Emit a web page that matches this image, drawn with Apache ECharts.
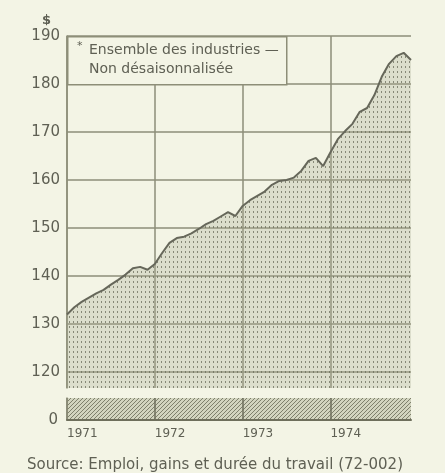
<!DOCTYPE html>
<html>
<head>
<meta charset="utf-8">
<script src="https://cdn.jsdelivr.net/npm/echarts@6/dist/echarts.min.js"></script>
<style>
html, body { margin: 0; padding: 0; background: #f3f4e5; }
#chart { width: 445px; height: 473px; }
</style>
</head>
<body>
<div id="chart"></div>
<script>
// gains hebdomadaires moyens, ensemble des industries (non désaisonnalisé)
var years = ['1971', '1972', '1973', '1974'];
var gains = [
    132.0, 133.5, 134.6, 135.5, 136.4, 137.1, 138.2, 139.2, 140.3, 141.6, 141.9, 141.3,
    142.5, 144.8, 146.9, 147.9, 148.2, 148.9, 149.8, 150.8, 151.5, 152.4, 153.3, 152.5,
    154.6, 155.8, 156.7, 157.6, 159.0, 159.8, 160.0, 160.5, 161.9, 164.0, 164.6, 162.9,
    165.8, 168.5, 170.2, 171.7, 174.2, 175.0, 177.7, 181.5, 184.2, 185.8, 186.5, 185.0
];
var yTicks = [120, 130, 140, 150, 160, 170, 180, 190];
var legendLines = ['Ensemble des industries \u2014', 'Non d\u00e9saisonnalis\u00e9e'];
var sourceText = 'Source: Emploi, gains et dur\u00e9e du travail (72-002)';

// une catégorie par mois
var months = [];
years.forEach(function (y) {
    for (var m = 1; m <= 12; m++) months.push(y + '-' + m);
});

var ink = '#5f6054';
var gridCol = '#8d8e78';
var font = 'DejaVu Sans';

// trame pointillée (remplissage de la courbe)
function dotPattern() {
    var c = document.createElement('canvas');
    c.width = 4; c.height = 5;
    var ctx = c.getContext('2d');
    ctx.fillStyle = 'rgba(170,172,145,0.30)';
    ctx.fillRect(0, 0, 4, 5);
    ctx.fillStyle = 'rgba(105,107,88,0.75)';
    ctx.fillRect(1, 1, 1, 2);
    return c;
}
// trame serrée de la bande du bas (axe coupé)
function hatchPattern() {
    var c = document.createElement('canvas');
    c.width = 4; c.height = 4;
    var ctx = c.getContext('2d');
    ctx.fillStyle = 'rgba(170,172,145,0.45)';
    ctx.fillRect(0, 0, 4, 4);
    ctx.fillStyle = 'rgba(105,107,88,0.8)';
    ctx.fillRect(0, 0, 1, 1); ctx.fillRect(2, 2, 1, 1);
    ctx.fillRect(3, 1, 1, 1); ctx.fillRect(1, 3, 1, 1);
    return c;
}

var yearTick = function (idx) { return idx % 12 === 0; };

var myChart = echarts.init(document.getElementById('chart'));
var option = {
    backgroundColor: '#f3f4e5',
    animation: false,
    grid: [
        { left: 67, top: 36, width: 344, height: 352, outerBoundsMode: 'none' },
        {
            left: 67, top: 398, width: 344, height: 22, outerBoundsMode: 'none',
            show: true, borderWidth: 0,
            backgroundColor: { image: hatchPattern(), repeat: 'repeat' }
        }
    ],
    xAxis: [
        {
            type: 'category', gridIndex: 0, data: months, boundaryGap: false,
            axisLine: { show: false }, axisTick: { show: false }, axisLabel: { show: false },
            splitLine: { show: true, interval: yearTick, lineStyle: { color: gridCol, width: 1.5 } }
        },
        {
            type: 'category', gridIndex: 1, data: months, boundaryGap: false,
            axisLine: { show: true, lineStyle: { color: '#6e6f5c', width: 2 } },
            axisTick: { show: false },
            axisLabel: {
                interval: yearTick, align: 'left', margin: 8,
                color: ink, fontFamily: font, fontSize: 12,
                formatter: function (v) { return v.split('-')[0]; }
            },
            splitLine: { show: true, interval: yearTick, lineStyle: { color: '#6e6f5c', width: 1.5 } }
        }
    ],
    yAxis: [
        {
            type: 'value', gridIndex: 0, min: 116.67, max: 190,
            axisLine: { show: true, lineStyle: { color: gridCol, width: 1.5 } },
            axisTick: { show: false, customValues: yTicks },
            axisLabel: { customValues: yTicks, margin: 7, color: ink, fontFamily: font, fontSize: 15 },
            splitLine: { show: true, lineStyle: { color: gridCol, width: 1.5 } }
        },
        {
            type: 'value', gridIndex: 1, min: 0, max: 1,
            axisLine: { show: true, lineStyle: { color: gridCol, width: 1.5 } },
            axisTick: { show: false, customValues: [0] },
            axisLabel: { customValues: [0], margin: 9, color: ink, fontFamily: font, fontSize: 15 },
            splitLine: { show: false }
        }
    ],
    series: [
        {
            name: 'Ensemble des industries',
            type: 'line', xAxisIndex: 0, yAxisIndex: 0,
            data: gains, symbol: 'none', smooth: false,
            lineStyle: { color: '#66675a', width: 2 },
            areaStyle: { origin: 'start', color: { image: dotPattern(), repeat: 'repeat' }, opacity: 1 }
        }
    ],
    title: [
        { text: '$', left: 37, top: 9, textStyle: { color: ink, fontFamily: font, fontSize: 13, fontWeight: 'bold' } },
        { text: sourceText, left: 22, top: 453, textStyle: { color: ink, fontFamily: font, fontSize: 15, fontWeight: 'normal' } }
    ],
    graphic: [
        {
            type: 'rect', left: 67, top: 36, z: 100,
            shape: { width: 219, height: 48 },
            style: { fill: '#f3f4e5', stroke: gridCol, lineWidth: 1.5 }
        },
        { type: 'text', left: 77, top: 41, z: 101, style: { text: '*', fill: ink, font: '11px ' + font } },
        { type: 'text', left: 89, top: 43, z: 101, style: { text: legendLines[0], fill: ink, font: '14px ' + font } },
        { type: 'text', left: 89, top: 62, z: 101, style: { text: legendLines[1], fill: ink, font: '14px ' + font } }
    ]
};
myChart.setOption(option);
</script>
</body>
</html>
